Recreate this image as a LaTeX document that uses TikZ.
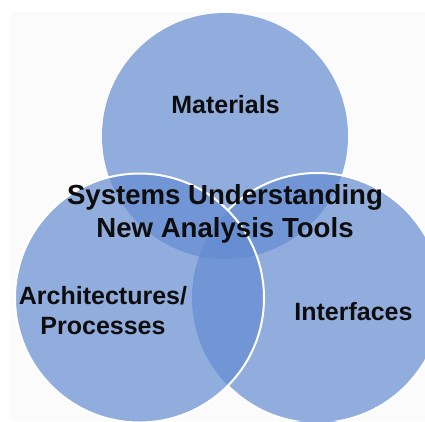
\documentclass[tikz,border=0pt]{standalone}
\usepackage{fontspec}
\setmainfont{Liberation Sans}
\definecolor{vennblue}{RGB}{100,140,210}
\definecolor{paper}{RGB}{251,251,251}
\begin{document}
\begin{tikzpicture}[x=1pt,y=-1pt,
  venn/.style={fill=vennblue,fill opacity=0.7},
  rim/.style={draw=white,line width=2pt},
  lbl/.style={font=\bfseries\fontsize{25}{30}\selectfont,align=center,inner sep=0pt,text=black!95},
  ctr/.style={font=\bfseries\fontsize{27.6}{33}\selectfont,align=center,inner sep=0pt,text=black!95}]
\useasboundingbox (0,0) rectangle (425,421);
\fill[paper] (10,12) rectangle (425,421);
% top circle
\path[venn] (225,136) circle[radius=123];
% right circle
\path[venn] (317,298) circle[radius=125];
\begin{scope}[even odd rule]
  \clip (0,0) rectangle (425,421) (139.5,298) circle[radius=124.5];
  \path[rim] (317,298) circle[radius=125];
\end{scope}
% left circle
\path[venn] (139.5,298) circle[radius=124.5];
\path[rim] (139.5,298) circle[radius=124.5];
% labels
\node[lbl,anchor=base] (mat) at (225.5,113) {Materials};
\node[ctr] (sys) at (225,214) {Systems Understanding\\New Analysis Tools};
\node[lbl] (arch) at (103,311) {Architectures/\\Processes};
\node[lbl,anchor=base] (intf) at (353.5,320) {Interfaces};
\end{tikzpicture}
\end{document}
